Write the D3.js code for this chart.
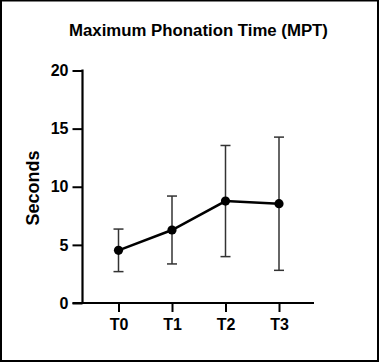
<!DOCTYPE html>
<html lang="en">
<head>
<meta charset="utf-8">
<title>Maximum Phonation Time</title>
<style type="text/css">
body { margin: 0; background: #fff; }
svg { display: block; }
text { font-family: "Liberation Sans", Arial, sans-serif; font-weight: bold; fill: #000; }
</style>
<script type="text/javascript" src="https://cdn.jsdelivr.net/npm/d3@7"></script>
</head>
<body>
<script type="text/javascript">
var w = 379;
var h = 362;

// data
var timepoints = ["T0", "T1", "T2", "T3"];
var means = [4.53, 6.28, 8.77, 8.54];
var sds = [1.83, 2.92, 4.78, 5.73];
var yTicks = [0, 5, 10, 15, 20];

var svg = d3.select("body")
            .append("svg")
            .attr("width", w)
            .attr("height", h);

// outer frame
svg.append("rect")
   .attr("x", 1).attr("y", 0.5)
   .attr("width", w - 2).attr("height", h - 1.5)
   .attr("fill", "none")
   .attr("stroke", "#000")
   .attr("stroke-width", 2);

var plotL = 82.5, plotR = 314, plotT = 70.5, plotB = 303;

var y = d3.scaleLinear().domain([0, 20]).range([plotB, plotT]);
var x = d3.scalePoint().domain(timepoints).range([118.5, 279]);

// title
svg.append("text")
   .attr("x", 198.5).attr("y", 36)
   .attr("text-anchor", "middle")
   .style("font-size", "16.8px")
   .text("Maximum Phonation Time (MPT)");

// y axis
var yAxis = svg.append("g")
   .attr("transform", "translate(" + plotL + ",0)")
   .call(d3.axisLeft(y).tickValues(yTicks).tickSize(10).tickPadding(4));
yAxis.select(".domain").remove();
yAxis.selectAll("line").attr("stroke", "#000").attr("stroke-width", 2);
yAxis.selectAll("text").style("font-size", "16px").style("font-family", "Liberation Sans, Arial, sans-serif").style("font-weight", "bold");

svg.append("line")
   .attr("x1", plotL).attr("x2", plotL)
   .attr("y1", plotT - 1).attr("y2", plotB)
   .attr("stroke", "#000").attr("stroke-width", 2.2);

// x axis
var xAxis = svg.append("g")
   .attr("transform", "translate(0," + plotB + ")")
   .call(d3.axisBottom(x).tickSize(9).tickPadding(7));
xAxis.select(".domain").remove();
xAxis.selectAll("line").attr("stroke", "#000").attr("stroke-width", 2);
xAxis.selectAll("text").style("font-size", "16px").style("font-family", "Liberation Sans, Arial, sans-serif").style("font-weight", "bold");

svg.append("line")
   .attr("x1", plotL - 10).attr("x2", plotR)
   .attr("y1", plotB).attr("y2", plotB)
   .attr("stroke", "#000").attr("stroke-width", 2.2);

// y label
svg.append("text")
   .attr("transform", "translate(39,188) rotate(-90)")
   .attr("text-anchor", "middle")
   .style("font-size", "18px")
   .text("Seconds");

// error bars
var bars = svg.selectAll("g.err")
   .data(timepoints)
   .enter()
   .append("g")
   .attr("class", "err");

bars.append("line")
    .attr("x1", function(d){ return x(d); })
    .attr("x2", function(d){ return x(d); })
    .attr("y1", function(d, i){ return y(means[i] + sds[i]); })
    .attr("y2", function(d, i){ return y(means[i] - sds[i]); })
    .attr("stroke", "#333").attr("stroke-width", 1.5);
bars.append("line")
    .attr("x1", function(d){ return x(d) - 5; })
    .attr("x2", function(d){ return x(d) + 5; })
    .attr("y1", function(d, i){ return y(means[i] + sds[i]); })
    .attr("y2", function(d, i){ return y(means[i] + sds[i]); })
    .attr("stroke", "#333").attr("stroke-width", 1.5);
bars.append("line")
    .attr("x1", function(d){ return x(d) - 5; })
    .attr("x2", function(d){ return x(d) + 5; })
    .attr("y1", function(d, i){ return y(means[i] - sds[i]); })
    .attr("y2", function(d, i){ return y(means[i] - sds[i]); })
    .attr("stroke", "#333").attr("stroke-width", 1.5);

// mean line
var line = d3.line()
   .x(function(d, i){ return x(timepoints[i]); })
   .y(function(d){ return y(d); });

svg.append("path")
   .datum(means)
   .attr("d", line)
   .attr("fill", "none")
   .attr("stroke", "#000")
   .attr("stroke-width", 2.5);

svg.selectAll("circle")
   .data(means)
   .enter()
   .append("circle")
   .attr("cx", function(d, i){ return x(timepoints[i]); })
   .attr("cy", function(d){ return y(d); })
   .attr("r", 4.6)
   .attr("fill", "#000");
</script>
</body>
</html>
